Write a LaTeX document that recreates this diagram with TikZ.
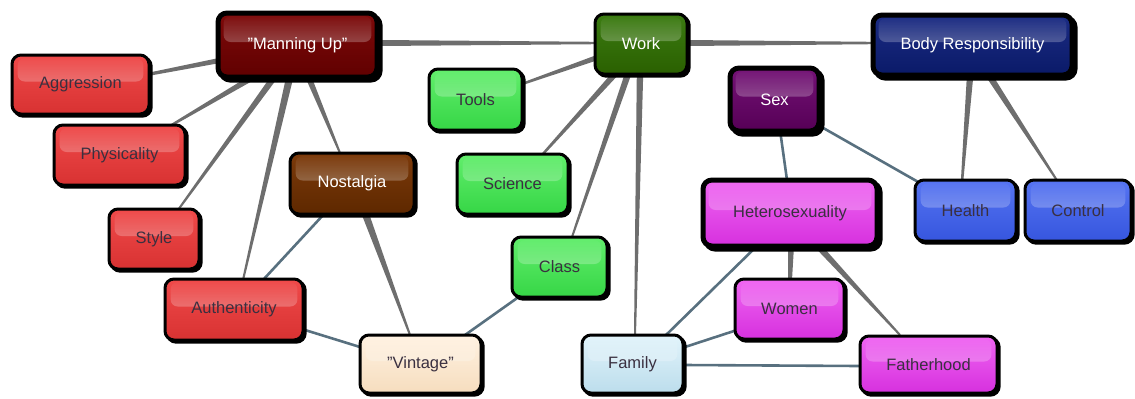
\documentclass[tikz,border=0pt]{standalone}
\usepackage{fontspec}
\setmainfont{Liberation Sans}
\usetikzlibrary{calc,shadows,fadings}
\pgfdeclarelayer{background}
\pgfsetlayers{background,main}
\definecolor{edgegray}{HTML}{6E6E6E}
\definecolor{edgeblue}{HTML}{58707F}
\definecolor{darktext}{HTML}{3A3040}
\definecolor{redT}{HTML}{F04A4A}\definecolor{redB}{HTML}{D83232}
\definecolor{mredT}{HTML}{7E0A0A}\definecolor{mredB}{HTML}{600000}
\definecolor{brownT}{HTML}{7C3A0A}\definecolor{brownB}{HTML}{5E2800}
\definecolor{dgreenT}{HTML}{3C7C12}\definecolor{dgreenB}{HTML}{2A6000}
\definecolor{lgreenT}{HTML}{62EE6C}\definecolor{lgreenB}{HTML}{36D646}
\definecolor{purpT}{HTML}{741276}\definecolor{purpB}{HTML}{560056}
\definecolor{magT}{HTML}{F066F2}\definecolor{magB}{HTML}{D630DE}
\definecolor{navyT}{HTML}{1C2C84}\definecolor{navyB}{HTML}{0A1A68}
\definecolor{blueT}{HTML}{5674F2}\definecolor{blueB}{HTML}{3656DE}
\definecolor{vinT}{HTML}{FFF2E2}\definecolor{vinB}{HTML}{F6DDBE}
\definecolor{famT}{HTML}{E2F4FB}\definecolor{famB}{HTML}{BCDDEC}
\tikzset{
  cbox/.style 2 args={rectangle, rounded corners=4.5pt, draw=black, line width=1.5pt,
    minimum width=#1*0.5pt, minimum height=#2*0.5pt, inner sep=0pt,
    general shadow={fill=black, draw=black, line width=1.5pt, shadow xshift=1.1pt, shadow yshift=-1.1pt},
    font=\fontsize{8.25}{10}\selectfont, text=darktext,
    path picture={\fill[white,opacity=0.55,path fading=north,rounded corners=3.5pt]
      ([shift={(2.8pt,-1.6pt)}]path picture bounding box.north west) rectangle
      ([shift={(-2.8pt,1.5pt)}]path picture bounding box.east);}},
  heavy/.style={line width=2.5pt,
    general shadow={fill=black, draw=black, line width=2.5pt, shadow xshift=1.5pt, shadow yshift=-1.5pt}},
  lighttext/.style={text=white},
  colr/.style 2 args={top color=#1, bottom color=#2},
  bline/.style={draw=edgeblue, line width=1.3pt},
}
\newcommand\gedge[8]{%
  \coordinate (#1-#4-a) at ([shift={(#2,#3)}]#1.center);
  \coordinate (#1-#4-b) at ([shift={(#5,#6)}]#4.center);
  \fill[edgegray] ($(#1-#4-a)!#7!90:(#1-#4-b)$) -- ($(#1-#4-b)!#8!-90:(#1-#4-a)$)
    -- ($(#1-#4-b)!#8!90:(#1-#4-a)$) -- ($(#1-#4-a)!#7!-90:(#1-#4-b)$) -- cycle;}
\newcommand\bedge[6]{%
  \coordinate (#1-#4-a) at ([shift={(#2,#3)}]#1.center);
  \coordinate (#1-#4-b) at ([shift={(#5,#6)}]#4.center);
  \draw[bline] (#1-#4-a) -- (#1-#4-b);}
\begin{document}
\begin{tikzpicture}[x=0.5pt,y=-0.5pt]
\useasboundingbox (0,0) rectangle (1135,398);
% nodes
\node[cbox={159}{64}, heavy, colr={mredT}{mredB}, lighttext] (manning) at (297.5,45) {"Manning Up"};
\node[cbox={137}{59}, colr={redT}{redB}] (aggression) at (80.5,84.5) {Aggression};
\node[cbox={131}{60}, colr={redT}{redB}] (physicality) at (119.5,155) {Physicality};
\node[cbox={90}{60}, colr={redT}{redB}] (style) at (154,239) {Style};
\node[cbox={138}{61}, colr={redT}{redB}] (authenticity) at (234,309.5) {Authenticity};
\node[cbox={124}{61}, colr={brownT}{brownB}, lighttext] (nostalgia) at (352,183.5) {Nostalgia};
\node[cbox={121}{58}, colr={vinT}{vinB}] (vintage) at (420.5,364) {"Vintage"};
\node[cbox={92}{60}, colr={dgreenT}{dgreenB}, lighttext] (work) at (641,44) {Work};
\node[cbox={93}{61}, colr={lgreenT}{lgreenB}] (tools) at (475.5,99.5) {Tools};
\node[cbox={111}{60}, colr={lgreenT}{lgreenB}] (science) at (512.5,184) {Science};
\node[cbox={95}{60}, colr={lgreenT}{lgreenB}] (class) at (559.5,267) {Class};
\node[cbox={101}{58}, colr={famT}{famB}] (family) at (632.5,364) {Family};
\node[cbox={174}{66}, heavy, colr={magT}{magB}] (hetero) at (790,213) {Heterosexuality};
\node[cbox={109}{60}, colr={magT}{magB}] (women) at (789.5,309) {Women};
\node[cbox={137}{57}, colr={magT}{magB}] (father) at (928.5,364.5) {Fatherhood};
\node[cbox={89}{63}, heavy, colr={purpT}{purpB}, lighttext] (sex) at (774.5,99.5) {Sex};
\node[cbox={199}{60}, heavy, colr={navyT}{navyB}, lighttext] (body) at (972.5,45) {Body Responsibility};
\node[cbox={101}{61}, colr={blueT}{blueB}] (health) at (965.5,210.5) {Health};
\node[cbox={106}{61}, colr={blueT}{blueB}] (control) at (1078,210.5) {Control};
% edges
\begin{pgfonlayer}{background}
\gedge{manning}{-75.5}{15}{aggression}{69.5}{-10.5}{1.3pt}{0.8pt}
\gedge{manning}{-42.5}{31}{physicality}{50.5}{-29}{1.5pt}{0.6pt}
\gedge{manning}{-22.5}{31}{style}{24}{-29}{1.6pt}{0.5pt}
\gedge{manning}{-7.5}{31}{authenticity}{9}{-29.5}{1.8pt}{0.5pt}
\gedge{manning}{10.5}{31}{nostalgia}{-12}{-30.5}{1.5pt}{0.5pt}
\gedge{manning}{82.5}{-2}{work}{-45}{-1}{1.5pt}{0.6pt}
\gedge{work}{47}{-1}{body}{-100.5}{-2}{1.5pt}{0.6pt}
\gedge{work}{-45}{14}{tools}{46.5}{-15.5}{1.3pt}{0.6pt}
\gedge{work}{-26}{30}{science}{29.5}{-29}{1.5pt}{0.6pt}
\gedge{work}{-13}{30}{class}{12.5}{-30}{1.6pt}{0.5pt}
\gedge{work}{-1}{30}{family}{2.5}{-29}{1.6pt}{0.5pt}
\gedge{nostalgia}{13}{29.5}{vintage}{-10.5}{-29}{1.8pt}{0.5pt}
\gedge{body}{-2.5}{32}{health}{-3.5}{-28.5}{1.6pt}{0.6pt}
\gedge{body}{17.5}{32}{control}{-20}{-28.5}{1.6pt}{0.5pt}
\gedge{hetero}{1}{33}{women}{0.5}{-29}{1.5pt}{1pt}
\gedge{hetero}{28}{33}{father}{-28.5}{-29.5}{1.6pt}{0.5pt}
\bedge{nostalgia}{-27}{29.5}{authenticity}{29}{-29.5}
\bedge{authenticity}{71}{20.5}{vintage}{-60.5}{-17}
\bedge{vintage}{44.5}{-29}{class}{-39.5}{29}
\bedge{sex}{5.5}{30.5}{hetero}{-3}{-33}
\bedge{sex}{43.5}{25.5}{health}{-45.5}{-27.5}
\bedge{hetero}{-30}{30}{family}{32.5}{-28}
\bedge{family}{52.5}{-17}{women}{-52.5}{21}
\bedge{family}{52.5}{1}{father}{-68.5}{1.5}
\end{pgfonlayer}
\end{tikzpicture}
\end{document}
